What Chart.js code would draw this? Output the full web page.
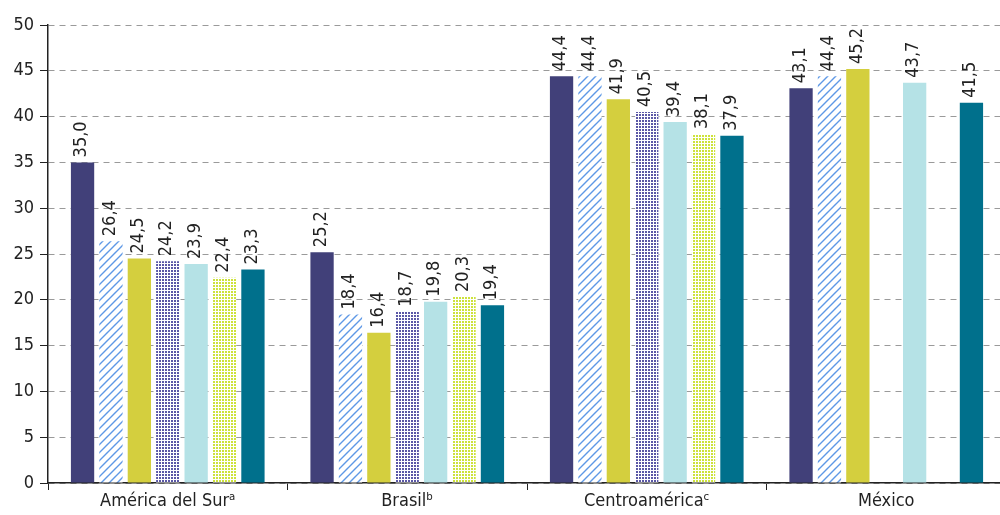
<!DOCTYPE html>
<html>
<head>
<meta charset="utf-8">
<script src="https://cdn.jsdelivr.net/npm/chart.js@4.4.1/dist/chart.umd.min.js"></script>
<style>
  html, body { margin: 0; padding: 0; background: #fff; overflow: hidden; }
  #wrap { width: 1006px; height: 515px; }
</style>
</head>
<body>
<div id="wrap"><canvas id="chart" width="1006" height="515"></canvas></div>
<script>
const FONT = '"DejaVu Sans Condensed", "Liberation Sans", sans-serif';

const categories = ["América del Surᵃ", "Brasilᵇ", "Centroaméricaᶜ", "México"];
const seriesNames = ["Serie 1", "Serie 2", "Serie 3", "Serie 4", "Serie 5", "Serie 6", "Serie 7"];

const serie1 = [35.0, 25.2, 44.4, 43.1];
const serie2 = [26.4, 18.4, 44.4, 44.4];
const serie3 = [24.5, 16.4, 41.9, 45.2];
const serie4 = [24.2, 18.7, 40.5, null];
const serie5 = [23.9, 19.8, 39.4, 43.7];
const serie6 = [22.4, 20.3, 38.1, null];
const serie7 = [23.3, 19.4, 37.9, 41.5];

const yTicks = [0, 5, 10, 15, 20, 25, 30, 35, 40, 45, 50];

// diagonal hatch, light blue on white
function hatchPattern(color) {
  const c = document.createElement("canvas");
  c.width = 8; c.height = 8;
  const g = c.getContext("2d");
  g.fillStyle = "#ffffff";
  g.fillRect(0, 0, 8, 8);
  g.strokeStyle = color;
  g.lineWidth = 1.4;
  g.beginPath();
  g.moveTo(0, 8); g.lineTo(8, 0);
  g.moveTo(-2, 2); g.lineTo(2, -2);
  g.moveTo(6, 10); g.lineTo(10, 6);
  g.stroke();
  return g.createPattern(c, "repeat");
}

// fine dot grid
function dotPattern(color) {
  const c = document.createElement("canvas");
  c.width = 3; c.height = 3;
  const g = c.getContext("2d");
  g.fillStyle = "#ffffff";
  g.fillRect(0, 0, 3, 3);
  g.fillStyle = color;
  g.fillRect(0, 0, 2, 2);
  return g.createPattern(c, "repeat");
}

const fills = [
  "#414079",
  hatchPattern("#5e98e6"),
  "#d4cf3e",
  dotPattern("#5a57a6"),
  "#b5e2e6",
  dotPattern("#cde23c"),
  "#00708c"
];

const seriesData = [serie1, serie2, serie3, serie4, serie5, serie6, serie7];

const valueLabels = {
  id: "valueLabels",
  afterDatasetsDraw(chart) {
    const ctx = chart.ctx;
    ctx.save();
    ctx.font = "18px " + FONT;
    ctx.fillStyle = "#222";
    ctx.textAlign = "left";
    ctx.textBaseline = "middle";
    chart.data.datasets.forEach((ds, di) => {
      chart.getDatasetMeta(di).data.forEach((bar, i) => {
        const v = ds.data[i];
        if (v == null) return;
        ctx.save();
        ctx.translate(bar.x - 1, bar.y - 5);
        ctx.rotate(-Math.PI / 2);
        ctx.fillText(v.toFixed(1).replace(".", ","), 0, 0);
        ctx.restore();
      });
    });
    ctx.restore();
  }
};

new Chart(document.getElementById("chart"), {
  type: "bar",
  data: {
    labels: categories,
    datasets: seriesData.map((d, i) => ({
      label: seriesNames[i],
      data: d,
      backgroundColor: fills[i],
      borderWidth: 0,
      categoryPercentage: 0.83,
      barPercentage: 0.82
    }))
  },
  options: {
    responsive: false,
    animation: false,
    layout: { padding: { top: 25, right: 0, left: 0, bottom: 0 } },
    plugins: {
      legend: { display: false },
      tooltip: { enabled: false }
    },
    scales: {
      x: {
        grid: {
          display: true,
          drawOnChartArea: false,
          offset: true,
          tickLength: 7,
          tickColor: "#222"
        },
        border: { color: "#222", width: 1.5 },
        ticks: { font: { family: FONT, size: 18 }, color: "#222", padding: 1 },
        afterFit: (s) => { s.height = 32; }
      },
      y: {
        min: 0,
        max: 50,
        afterBuildTicks: (s) => { s.ticks = yTicks.map((v) => ({ value: v })); },
        grid: { color: "#9a9a9a", tickColor: "#222", tickLength: 8, lineWidth: 1 },
        border: { color: "#222", width: 1.5, dash: [6, 5] },
        ticks: { font: { family: FONT, size: 18 }, color: "#222", padding: 6 },
        afterFit: (s) => { s.width = 48; }
      }
    }
  },
  plugins: [valueLabels]
});
</script>
</body>
</html>
